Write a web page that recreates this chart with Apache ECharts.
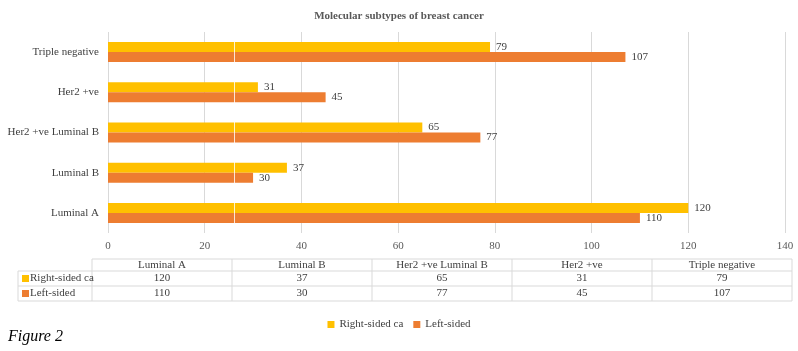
<!DOCTYPE html>
<html>
<head>
<meta charset="utf-8">
<script src="https://cdn.jsdelivr.net/npm/echarts@6/dist/echarts.min.js"></script>
<style>
  html, body { margin: 0; padding: 0; background: #fff; }
  #chart { width: 798px; height: 351px; }
</style>
</head>
<body>
<div id="chart"></div>
<script>
// categories bottom -> top (category axis starts at the bottom)
const subtypes = ['Luminal A', 'Luminal B', 'Her2 +ve Luminal B', 'Her2 +ve', 'Triple negative'];
const rightSided = [120, 37, 65, 31, 79];
const leftSided = [110, 30, 77, 45, 107];
const seriesNames = ['Right-sided ca', 'Left-sided'];
const seriesColors = ['#FFC000', '#ED7D31'];
const xTicks = { min: 0, max: 140, interval: 20 };

const serif = '"Liberation Serif", "DejaVu Serif", serif';
const textCol = '#404040';
const lineCol = '#d9d9d9';

// data table under the plot, built from the same arrays
const colX = 92, colW = 140, labelX = 18;
const rowY = [259, 271, 286, 301];
const tableRows = [rightSided, leftSided];
let tableGraphics = [];
// horizontal rules
tableGraphics.push({ type: 'line', shape: { x1: colX, y1: rowY[0], x2: colX + colW * subtypes.length, y2: rowY[0] }, style: { stroke: lineCol, lineWidth: 1 } });
for (let r = 1; r < rowY.length; r++) {
  tableGraphics.push({ type: 'line', shape: { x1: labelX, y1: rowY[r], x2: colX + colW * subtypes.length, y2: rowY[r] }, style: { stroke: lineCol, lineWidth: 1 } });
}
// vertical rules
tableGraphics.push({ type: 'line', shape: { x1: labelX, y1: rowY[1], x2: labelX, y2: rowY[3] }, style: { stroke: lineCol, lineWidth: 1 } });
for (let c = 0; c <= subtypes.length; c++) {
  tableGraphics.push({ type: 'line', shape: { x1: colX + colW * c, y1: rowY[0], x2: colX + colW * c, y2: rowY[3] }, style: { stroke: lineCol, lineWidth: 1 } });
}
// header + cells
subtypes.forEach(function (name, c) {
  const cx = colX + colW * c + colW / 2;
  tableGraphics.push({ type: 'text', x: cx, y: (rowY[0] + rowY[1]) / 2, style: { text: name, align: 'center', verticalAlign: 'middle', font: '11px ' + serif, fill: textCol } });
  tableRows.forEach(function (row, r) {
    tableGraphics.push({ type: 'text', x: cx, y: (rowY[r + 1] + rowY[r + 2]) / 2, style: { text: String(row[c]), align: 'center', verticalAlign: 'middle', font: '11px ' + serif, fill: textCol } });
  });
});
seriesNames.forEach(function (name, r) {
  const cy = (rowY[r + 1] + rowY[r + 2]) / 2;
  tableGraphics.push({ type: 'rect', shape: { x: labelX + 4, y: cy - 3.5, width: 7, height: 7 }, style: { fill: seriesColors[r] } });
  tableGraphics.push({ type: 'text', x: labelX + 12, y: cy, style: { text: name, align: 'left', verticalAlign: 'middle', font: '11px ' + serif, fill: textCol } });
});

const chart = echarts.init(document.getElementById('chart'));
const labelStyle = { show: true, position: 'right', distance: 6, color: textCol, fontFamily: serif, fontSize: 11 };

chart.setOption({
  animation: false,
  backgroundColor: '#fff',
  title: {
    text: 'Molecular subtypes of breast cancer',
    left: 'center',
    top: 6,
    textStyle: { fontFamily: serif, fontSize: 11, fontWeight: 'bold', color: '#595959' }
  },
  legend: {
    data: seriesNames,
    top: 314,
    left: 'center',
    icon: 'rect',
    itemWidth: 7,
    itemHeight: 7,
    itemGap: 10,
    textStyle: { fontFamily: serif, fontSize: 11, color: textCol }
  },
  grid: { left: 108, right: 13, top: 32, bottom: 118, containLabel: false },
  xAxis: {
    type: 'value',
    min: xTicks.min,
    max: xTicks.max,
    interval: xTicks.interval,
    axisLine: { show: false },
    axisTick: { show: false },
    axisLabel: { color: '#595959', fontFamily: serif, fontSize: 11, margin: 8 },
    splitLine: { show: true, lineStyle: { color: lineCol, width: 1 } }
  },
  yAxis: {
    type: 'category',
    data: subtypes,
    axisLine: { show: false },
    axisTick: { show: false },
    axisLabel: { color: textCol, fontFamily: serif, fontSize: 11, margin: 9 }
  },
  series: [
    {
      name: seriesNames[0],
      type: 'bar',
      data: rightSided,
      itemStyle: { color: seriesColors[0] },
      barWidth: 10,
      barGap: '0%',
      label: labelStyle
    },
    {
      name: seriesNames[1],
      type: 'bar',
      data: leftSided,
      itemStyle: { color: seriesColors[1] },
      barWidth: 10,
      barGap: '0%',
      label: labelStyle
    }
  ],
  graphic: tableGraphics.concat([
    // the faint white seam that crosses the bars in the original scan
    { type: 'line', z: 100, shape: { x1: 234.5, y1: 32, x2: 234.5, y2: 233 }, style: { stroke: 'rgba(255,255,255,0.8)', lineWidth: 1 } },
    { type: 'text', x: 8, y: 329, style: { text: 'Figure 2', font: 'italic 16px ' + serif, fill: '#000' } }
  ])
});
</script>
</body>
</html>
